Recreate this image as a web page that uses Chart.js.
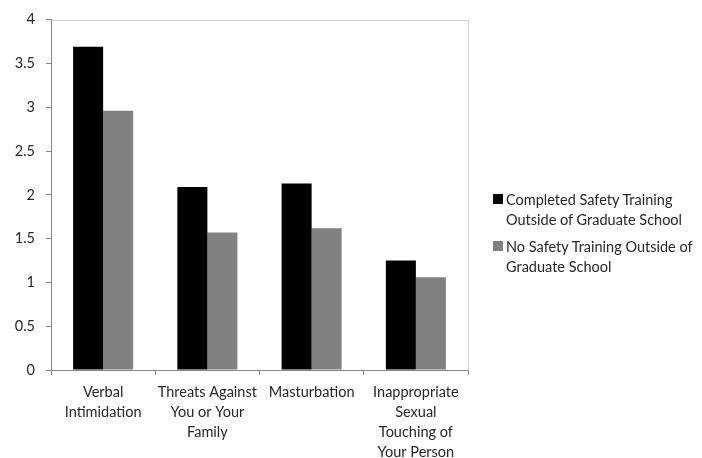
<!DOCTYPE html>
<html>
<head>
<meta charset="utf-8">
<script src="https://cdn.jsdelivr.net/npm/chart.js@4"></script>
<style>
  html, body { margin: 0; padding: 0; background: #fff; }
  #wrap { position: relative; width: 702px; height: 458px; }
  #legend { position: absolute; left: 493px; top: 190px; font-family: Lato, "Open Sans", sans-serif; font-size: 14.5px; color: #262626; line-height: 19.5px; }
  .item { position: relative; padding-left: 13px; margin-bottom: 8px; }
  .sw { position: absolute; left: 0; top: 4px; width: 10px; height: 10px; }
</style>
</head>
<body>
<div id="wrap">
  <canvas id="c" width="702" height="458"></canvas>
  <div id="legend"></div>
</div>
<script>
const categories = [
  ['Verbal', 'Intimidation'],
  ['Threats Against', 'You or Your', 'Family'],
  ['Masturbation'],
  ['Inappropriate', 'Sexual', 'Touching of', 'Your Person']
];
const seriesNames = [
  ['Completed Safety Training', 'Outside of Graduate School'],
  ['No Safety Training Outside of', 'Graduate School']
];
const completedTraining = [3.69, 2.09, 2.13, 1.25];
const noTraining = [2.96, 1.57, 1.62, 1.06];
const yTicks = [0, 0.5, 1, 1.5, 2, 2.5, 3, 3.5, 4];
const colors = ['#000000', '#808080'];

const legend = document.getElementById('legend');
seriesNames.forEach((lines, i) => {
  const d = document.createElement('div');
  d.className = 'item';
  const sw = document.createElement('span');
  sw.className = 'sw';
  sw.style.background = colors[i];
  d.appendChild(sw);
  d.appendChild(document.createTextNode(lines[0]));
  d.appendChild(document.createElement('br'));
  d.appendChild(document.createTextNode(lines[1]));
  legend.appendChild(d);
});

const borderPlugin = {
  id: 'plotBorder',
  afterDraw(chart) {
    const a = chart.chartArea, ctx = chart.ctx;
    ctx.save();
    ctx.strokeStyle = '#d0d0d0';
    ctx.lineWidth = 1;
    ctx.beginPath();
    ctx.moveTo(Math.round(a.left) + 0.5, Math.round(a.top) + 0.5);
    ctx.lineTo(Math.round(a.right) + 0.5, Math.round(a.top) + 0.5);
    ctx.lineTo(Math.round(a.right) + 0.5, Math.round(a.bottom) + 0.5);
    ctx.stroke();
    ctx.restore();
  }
};

new Chart(document.getElementById('c'), {
  type: 'bar',
  data: {
    labels: categories,
    datasets: [
      { label: seriesNames[0].join(' '), data: completedTraining, backgroundColor: colors[0], barPercentage: 1, categoryPercentage: 0.576 },
      { label: seriesNames[1].join(' '), data: noTraining, backgroundColor: colors[1], barPercentage: 1, categoryPercentage: 0.576 }
    ]
  },
  options: {
    responsive: false,
    animation: false,
    devicePixelRatio: 1,
    layout: { padding: { top: 16, right: 234, left: 0, bottom: 0 } },
    plugins: { legend: { display: false }, tooltip: { enabled: false } },
    scales: {
      x: {
        offset: true,
        grid: { offset: true, drawOnChartArea: false, tickLength: 5, color: '#868686' },
        border: { color: '#868686' },
        ticks: { color: '#262626', padding: 7, maxRotation: 0, autoSkip: false, font: { family: 'Lato', size: 14.5, lineHeight: 1.38 } },
        afterFit(s) { s.height = 88; }
      },
      y: {
        min: 0, max: 4,
        afterBuildTicks(s) { s.ticks = yTicks.map(v => ({ value: v })); },
        grid: { drawOnChartArea: false, tickLength: 5, color: '#868686' },
        border: { color: '#868686' },
        ticks: { color: '#262626', padding: 11, font: { family: 'Lato', size: 14.5 }, callback: v => String(v) },
        afterFit(s) { s.width = 51; }
      }
    }
  },
  plugins: [borderPlugin]
});
</script>
</body>
</html>
